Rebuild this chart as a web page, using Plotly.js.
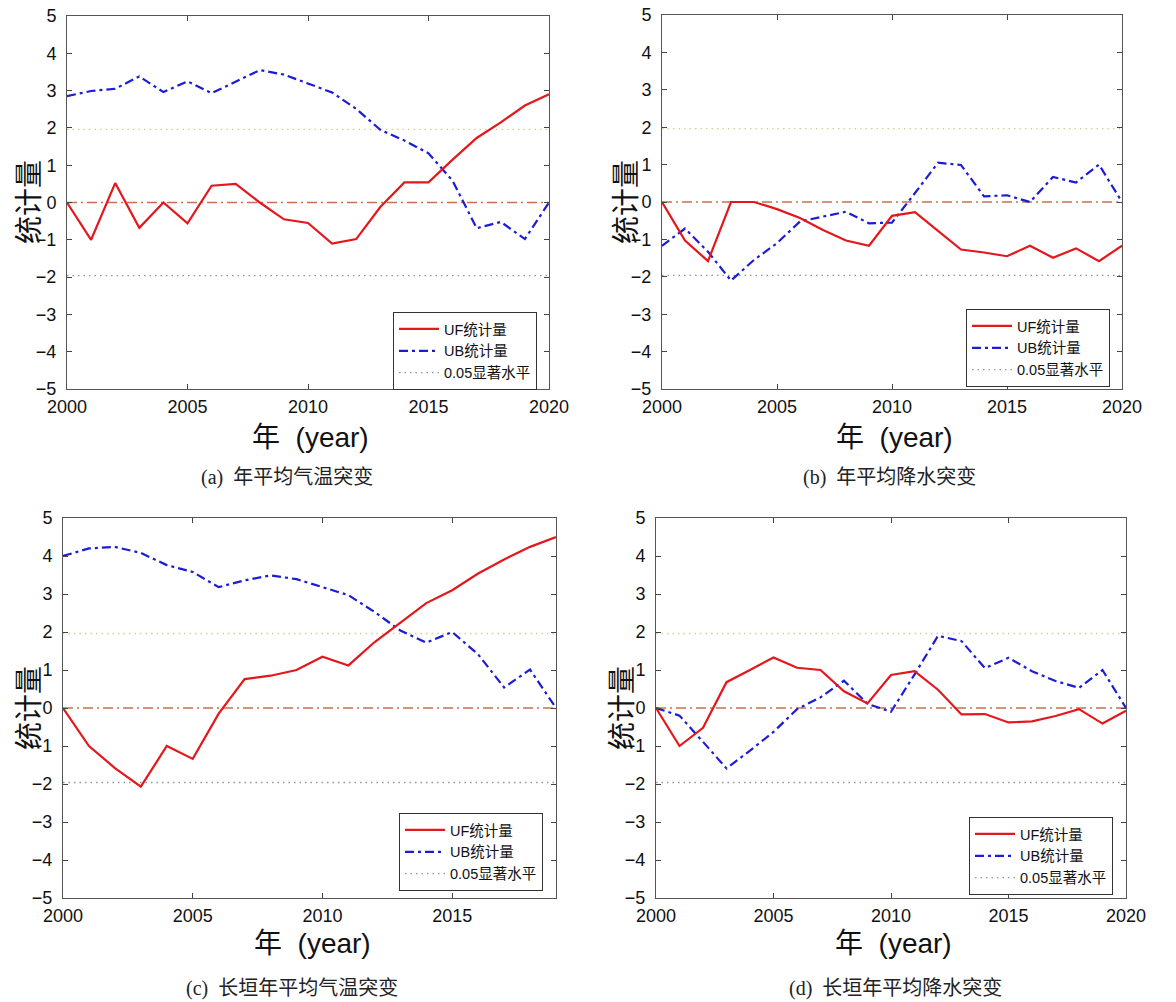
<!DOCTYPE html>
<html>
<head>
<meta charset="utf-8">
<script src="https://cdn.plot.ly/plotly-3.0.1.min.js"></script>
<style>html,body{margin:0;padding:0;background:#fff;}#chart{width:1176px;height:1002px;}</style>
</head>
<body>
<div id="chart"></div>
<script>
// ---------- data ----------
const years20 = [2000,2001,2002,2003,2004,2005,2006,2007,2008,2009,2010,2011,2012,2013,2014,2015,2016,2017,2018,2019,2020];
const years19 = [2000,2001,2002,2003,2004,2005,2006,2007,2008,2009,2010,2011,2012,2013,2014,2015,2016,2017,2018,2019];

const ufA = [0,-1.0,0.52,-0.68,0,-0.56,0.45,0.5,0.0,-0.45,-0.55,-1.1,-0.98,-0.12,0.54,0.54,1.15,1.73,2.15,2.6,2.9];
const ubA = [2.85,2.99,3.05,3.38,2.96,3.25,2.93,3.23,3.55,3.43,3.19,2.95,2.51,1.95,1.66,1.32,0.58,-0.69,-0.52,-0.98,0];

const ufB = [0,-1.03,-1.58,0.0,0.0,-0.19,-0.43,-0.75,-1.03,-1.17,-0.37,-0.27,-0.77,-1.27,-1.35,-1.45,-1.17,-1.49,-1.24,-1.58,-1.17];
const ubB = [-1.17,-0.71,-1.33,-2.1,-1.55,-1.1,-0.52,-0.39,-0.26,-0.57,-0.55,0.24,1.05,0.99,0.15,0.18,0.0,0.67,0.52,1.0,0];

const ufC = [0,-1.0,-1.58,-2.07,-1.0,-1.34,-0.15,0.76,0.85,1.0,1.35,1.12,1.73,2.25,2.76,3.1,3.54,3.91,4.24,4.5];
const ubC = [4.0,4.2,4.24,4.08,3.76,3.58,3.18,3.36,3.49,3.39,3.18,2.97,2.53,2.04,1.72,2.0,1.41,0.54,1.01,0];

const ufD = [0,-1.0,-0.52,0.68,1.0,1.33,1.06,1.0,0.44,0.12,0.87,0.97,0.48,-0.17,-0.16,-0.38,-0.35,-0.21,-0.03,-0.41,-0.07];
const ubD = [0,-0.2,-0.89,-1.59,-1.12,-0.63,-0.03,0.28,0.72,0.11,-0.1,0.88,1.9,1.76,1.05,1.32,0.97,0.71,0.53,1.0,0];

const sigLevel = 1.96;
const xTicks = [2000,2005,2010,2015,2020];
const yTicks = [-5,-4,-3,-2,-1,0,1,2,3,4,5];
const captions = ["(a)  年平均气温突变","(b)  年平均降水突变","(c)  长垣年平均气温突变","(d)  长垣年平均降水突变"];
const legendNames = ["UF统计量","UB统计量","0.05显著水平"];
const xTitle = "年\u00a0\u00a0(year)";
const yTitle = "统计量";

// ---------- layout geometry (pixels) ----------
const W = 1176, H = 1002;
const panels = [
  {years: years20, uf: ufA, ub: ubA, xr:[2000,2020], box:[67,549,16,389], leg:[537,312], cap:[287,478], xt:[310,437], yt:[27,202]},
  {years: years20, uf: ufB, ub: ubB, xr:[2000,2020], box:[662,1122,15,389], leg:[1110,309], cap:[889,478], xt:[894,437], yt:[624,202]},
  {years: years19, uf: ufC, ub: ubC, xr:[2000,2019], box:[63,556,518,898], leg:[543,813], cap:[292,988], xt:[312,943], yt:[27,708]},
  {years: years20, uf: ufD, ub: ubD, xr:[2000,2020], box:[656,1126,518,898], leg:[1113,817], cap:[895,988], xt:[893,943], yt:[620,708]}
];

const sans = "Liberation Sans, Arial, Noto Sans CJK SC, sans-serif";
const serif = "Liberation Serif, Times New Roman, Noto Sans CJK SC, serif";

const traces = [];
const layout = {
  width: W, height: H,
  margin: {l:0, r:0, t:0, b:0},
  paper_bgcolor: '#fff', plot_bgcolor: '#fff',
  showlegend: true,
  annotations: []
};

panels.forEach((p, i) => {
  const n = i === 0 ? '' : String(i + 1);
  const xa = 'x' + n, ya = 'y' + n;
  const legId = 'legend' + n;
  const flat = v => p.xr.map(() => v);

  traces.push({x: p.xr, y: flat(0), xaxis: xa, yaxis: ya, mode: 'lines', showlegend: false, hoverinfo: 'skip',
    line: {color: '#c9704f', width: 1.3, dash: '10px,4px,2px,4px'}});
  traces.push({x: p.xr, y: flat(sigLevel), xaxis: xa, yaxis: ya, mode: 'lines', showlegend: false, hoverinfo: 'skip',
    line: {color: '#d8d091', width: 1.3, dash: '1.5px,4px'}});
  traces.push({x: p.xr, y: flat(-sigLevel), xaxis: xa, yaxis: ya, mode: 'lines', name: legendNames[2], legend: legId, legendrank: 3,
    line: {color: '#8f979f', width: 1.3, dash: '1.5px,4px'}});
  traces.push({x: p.years, y: p.ub, xaxis: xa, yaxis: ya, mode: 'lines', name: legendNames[1], legend: legId, legendrank: 2,
    line: {color: '#1c1cd6', width: 2.2, dash: '9px,4px,3px,4px'}});
  traces.push({x: p.years, y: p.uf, xaxis: xa, yaxis: ya, mode: 'lines', name: legendNames[0], legend: legId, legendrank: 1,
    line: {color: '#e3171c', width: 2.2}});

  const [x0, x1, y0, y1] = p.box;
  layout['xaxis' + n] = {
    domain: [x0 / W, x1 / W], anchor: ya, range: p.xr,
    tickvals: xTicks, ticks: 'inside', ticklen: 5, tickcolor: '#444',
    mirror: 'allticks', showline: true, linecolor: '#555', linewidth: 1,
    showgrid: false, zeroline: false, ticklabelstandoff: 1,
    tickfont: {family: sans, size: 18, color: '#111'}
  };
  layout['yaxis' + n] = {
    domain: [1 - y1 / H, 1 - y0 / H], anchor: xa, range: [-5, 5],
    tickvals: yTicks, ticks: 'inside', ticklen: 5, tickcolor: '#444',
    mirror: 'allticks', showline: true, linecolor: '#555', linewidth: 1,
    showgrid: false, zeroline: false, ticklabelstandoff: 6,
    tickfont: {family: sans, size: 18, color: '#111'}
  };
  layout[legId] = {
    x: p.leg[0] / W, y: 1 - p.leg[1] / H, xanchor: 'right', yanchor: 'top',
    bgcolor: '#fff', bordercolor: '#333', borderwidth: 1,
    font: {family: sans, size: 14.5, color: '#111'},
    tracegroupgap: 0, itemwidth: 40
  };

  layout.annotations.push({text: captions[i], xref: 'paper', yref: 'paper', x: p.cap[0] / W, y: 1 - p.cap[1] / H,
    xanchor: 'center', yanchor: 'middle', showarrow: false, font: {family: serif, size: 20, color: '#222'}});
  layout.annotations.push({text: xTitle, xref: 'paper', yref: 'paper', x: p.xt[0] / W, y: 1 - p.xt[1] / H,
    xanchor: 'center', yanchor: 'middle', showarrow: false, font: {family: sans, size: 28, color: '#111'}});
  layout.annotations.push({text: yTitle, xref: 'paper', yref: 'paper', x: p.yt[0] / W, y: 1 - p.yt[1] / H,
    xanchor: 'center', yanchor: 'middle', textangle: -90, showarrow: false, font: {family: "Noto Sans CJK SC, sans-serif", size: 28, color: '#111'}});
});

Plotly.newPlot('chart', traces, layout, {staticPlot: true, displayModeBar: false});
</script>
</body>
</html>
